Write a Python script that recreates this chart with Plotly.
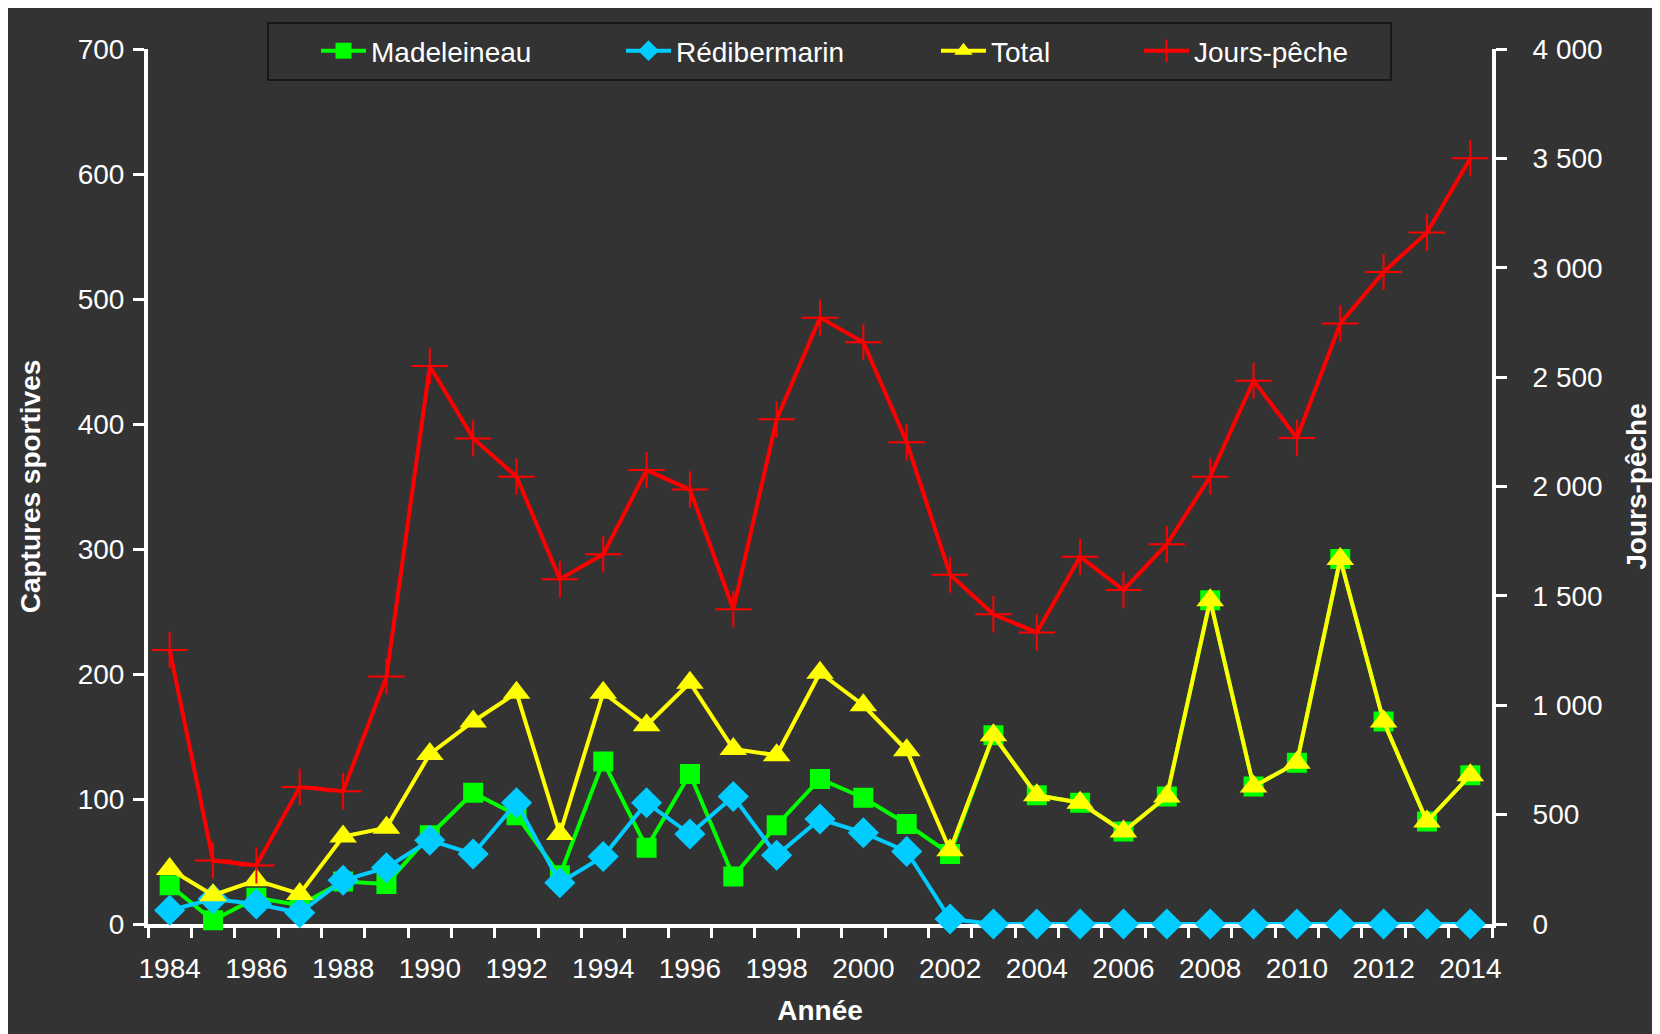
import plotly.graph_objects as go

annees = list(range(1984, 2015))

madeleineau = [31, 3, 21, 15, 34, 32, 71, 105, 87, 39, 130, 61, 120, 38, 79, 116, 101, 80, 56,
               151, 103, 97, 74, 102, 259, 110, 129, 292, 162, 82, 119]
redibermarin = [11, 20, 16, 9, 35, 45, 67, 56, 97, 33, 54, 97, 72, 102, 55, 84, 73, 58, 4,
                0, 0, 0, 0, 0, 0, 0, 0, 0, 0, 0, 0]
total = [44, 23, 35, 24, 70, 77, 136, 162, 185, 72, 185, 159, 193, 140, 135, 201, 175, 139, 59,
         151, 103, 97, 74, 102, 259, 110, 129, 292, 162, 82, 119]
jours_peche = [1253, 290, 268, 626, 607, 1131, 2551, 2220, 2045, 1576, 1690, 2075, 1986, 1439, 2307,
               2772, 2659, 2202, 1597, 1416, 1333, 1679, 1527, 1736, 2045, 2484, 2222, 2745, 2981,
               3161, 3501]

annees_labels = [a for a in annees if a % 2 == 0]

fond = "#333333"
police = "Liberation Sans, Arial, sans-serif"

# la page a une marge de 8 px : positions mesurées sur la capture, moins 8
OFF = 8
W, H = 1660, 1034
L, T = 148 - OFF, 49 - OFF
R, B = W - (1492 - OFF), H - (924 - OFF)
pw, ph = W - L - R, H - T - B


def px_x(x):
    return (x - OFF - L) / pw


def px_y(y):
    return 1 - (y - OFF - T) / ph


fig = go.Figure()

fig.add_trace(go.Scatter(
    x=annees, y=madeleineau, name="Madeleineau", mode="lines+markers",
    line=dict(color="#00FF00", width=4),
    marker=dict(symbol="square", size=20, color="#00FF00"),
    cliponaxis=False, legend="legend",
))
fig.add_trace(go.Scatter(
    x=annees, y=redibermarin, name="Rédibermarin", mode="lines+markers",
    line=dict(color="#00CCFF", width=4),
    marker=dict(symbol="diamond", size=24, color="#00CCFF"),
    cliponaxis=False, legend="legend2",
))
fig.add_trace(go.Scatter(
    x=annees, y=total, name="Total", mode="lines+markers",
    line=dict(color="#FFFF00", width=4),
    marker=dict(symbol="triangle-up", size=24, color="#FFFF00"),
    cliponaxis=False, legend="legend3",
))
fig.add_trace(go.Scatter(
    x=annees, y=jours_peche, name="Jours-pêche", mode="lines+markers", yaxis="y2",
    line=dict(color="#FF0000", width=4),
    marker=dict(symbol="cross-thin", size=26, color="#FF0000", line=dict(color="#FF0000", width=2)),
    cliponaxis=False, legend="legend4",
))

leg_font = dict(family=police, size=28, color="white")


def legende(x_px):
    return dict(x=px_x(x_px), xanchor="left", y=px_y(51), yanchor="middle",
                orientation="h", bgcolor="rgba(0,0,0,0)", borderwidth=0, font=leg_font,
                itemwidth=45)


axe = dict(showline=True, linecolor="white", linewidth=4, showgrid=False, zeroline=False,
           ticks="outside", ticklen=11, tickwidth=3, tickcolor="white",
           tickfont=dict(family=police, size=28, color="white"), layer="below traces")

fig.update_layout(
    width=W, height=H,
    margin=dict(l=L, r=R, t=T, b=B),
    paper_bgcolor=fond, plot_bgcolor=fond,
    separators=", ",
    showlegend=True,
    font=dict(family=police, color="white"),
    xaxis=dict(
        axe, range=[1983.5, 2014.5], tickmode="array", tickvals=annees_labels, ticks="",
        ticklabelstandoff=16,
        minor=dict(tickmode="array", tickvals=[a - 0.5 for a in annees] + [annees[-1] + 0.5],
                   ticks="outside", ticklen=10, tickwidth=3, tickcolor="white"),
        title=dict(text="<b>Année</b>", font=dict(family=police, size=28, color="white"), standoff=19),
    ),
    yaxis=dict(
        axe, range=[0, 700], dtick=100, ticklabelstandoff=3,
        title=dict(text="<b>Captures sportives</b>", font=dict(family=police, size=28, color="white"),
                   standoff=30),
    ),
    yaxis2=dict(
        axe, range=[0, 4000], dtick=500, tickformat=",d", overlaying="y", side="right",
        ticklabelstandoff=20,
        title=dict(text="<b>Jours-pêche</b>", font=dict(family=police, size=28, color="white"),
                   standoff=26),
    ),
    legend=legende(316),
    legend2=legende(621),
    legend3=legende(936),
    legend4=legende(1139),
    shapes=[dict(type="rect", xref="paper", yref="paper",
                 x0=px_x(268), x1=px_x(1391), y0=px_y(80), y1=px_y(23),
                 line=dict(color="#111111", width=1.5), layer="below")],
)

fig.write_html("out.html")
